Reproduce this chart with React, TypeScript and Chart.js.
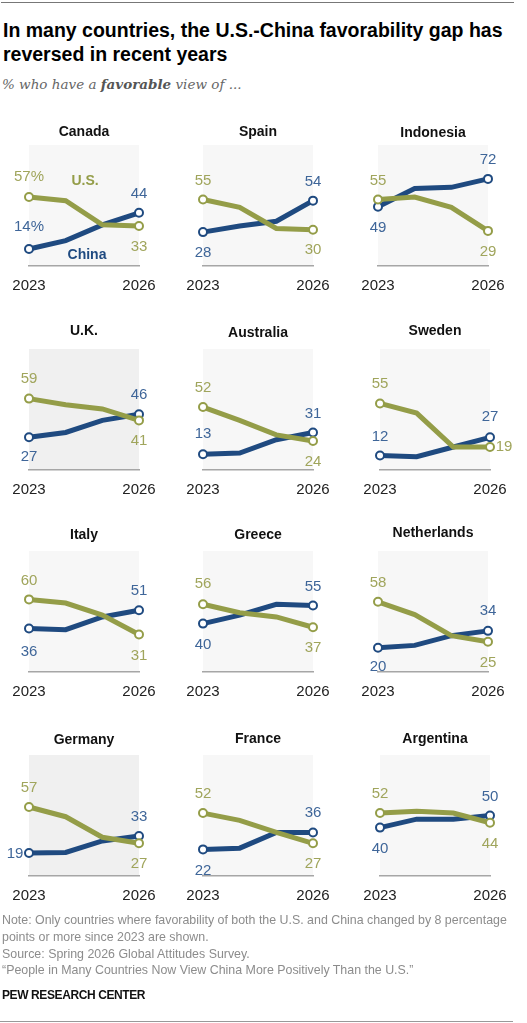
import { useEffect, useRef } from "react";
import { Chart, registerables, Plugin } from "chart.js";

Chart.register(...registerables);

const years = ["2023", "2024", "2025", "2026"];

const countries = [
  "Canada", "Spain", "Indonesia",
  "U.K.", "Australia", "Sweden",
  "Italy", "Greece", "Netherlands",
  "Germany", "France", "Argentina",
];

const usValues = [
  [57, 54, 34, 33],
  [55, 48.5, 31, 30],
  [55, 57, 48.5, 29],
  [59, 54, 50.5, 41],
  [52, 41, 29, 24],
  [55, 47, 19, 19],
  [60, 57, 47, 31],
  [56, 49, 45.5, 37],
  [58, 47.5, 30, 25],
  [57, 49, 32, 27],
  [52, 46, 36, 27],
  [52, 53.5, 52, 44],
];

const chinaValues = [
  [14, 21, 34, 44],
  [28, 33, 37, 54],
  [49, 64, 65, 72],
  [27, 31, 41, 46],
  [13, 14, 25, 31],
  [12, 11, 19, 27],
  [36, 35, 45.5, 51],
  [40, 47, 56, 55],
  [20, 22, 30, 34],
  [19, 19.5, 29, 33],
  [22, 23, 36, 36],
  [40, 47, 47, 50],
];

// where each panel sits on the page: left edge of plot, top edge of plot, title centre
const panelLeft = [29, 203, 378, 29, 203, 380, 29, 203, 378, 29, 203, 380];
const panelTop = [145, 145, 145, 349, 349, 349, 551, 551, 551, 755, 755, 755];
const titleGap = [13, 13, 12, 18, 16, 18, 16, 16, 18, 15, 16, 16];

const shadedCountries = ["U.K.", "Germany"];

// [dx, dy] of the end labels from their point: us start, us end, china start, china end
const labelOffsets = [
  [[0, -20], [0, 21], [0, -22], [0, -19]],
  [[0, -19], [0, 20], [0, 21], [0, -19]],
  [[0, -19], [0, 21], [0, 21], [0, -19]],
  [[0, -20], [0, 20], [0, 20], [0, -19]],
  [[0, -19], [0, 21], [0, -20], [0, -19]],
  [[0, -20], [14, 0], [0, -19], [0, -20]],
  [[0, -19], [0, 21], [0, 23], [0, -19]],
  [[0, -20], [0, 21], [0, 21], [0, -19]],
  [[0, -19], [0, 21], [0, 19], [0, -20]],
  [[0, -19], [0, 21], [-14, 1], [0, -19]],
  [[0, -19], [0, 21], [0, 21], [0, -20]],
  [[0, -19], [0, 21], [0, 21], [0, -19]],
];

const US_COLOR = "#949d48";
const CHINA_COLOR = "#1f4a80";
const US_TEXT = "#a0a55c";
const CHINA_TEXT = "#3f6699";
const SANS = '"Liberation Sans", sans-serif';

const CANVAS_W = 168;
const CANVAS_H = 191;
const PAD = 29;
const TOP_PAD = 35;

function Panel({ index }: { index: number }) {
  const canvasRef = useRef<HTMLCanvasElement | null>(null);

  useEffect(() => {
    if (!canvasRef.current) return;
    const name = countries[index];

    const panelPlugin: Plugin<"line"> = {
      id: "panel",
      beforeDraw: (chart) => {
        const { ctx, chartArea } = chart;
        ctx.save();
        ctx.fillStyle = shadedCountries.includes(name) ? "#f0f0f0" : "#f7f7f7";
        ctx.fillRect(chartArea.left, chartArea.top, chartArea.width, chartArea.height);
        ctx.restore();
      },
      afterDraw: (chart) => {
        const { ctx, chartArea } = chart;
        ctx.save();
        ctx.textAlign = "center";
        ctx.textBaseline = "middle";

        ctx.font = `bold 14px ${SANS}`;
        ctx.fillStyle = "#111";
        ctx.fillText(name, (chartArea.left + chartArea.right) / 2, chartArea.top - titleGap[index]);

        ctx.font = `15px ${SANS}`;
        [0, 1].forEach((ds) => {
          const values = ds === 0 ? usValues[index] : chinaValues[index];
          const meta = chart.getDatasetMeta(ds);
          ctx.fillStyle = ds === 0 ? US_TEXT : CHINA_TEXT;
          [0, 3].forEach((p, j) => {
            const pt = meta.data[p];
            const [dx, dy] = labelOffsets[index][ds * 2 + j];
            const suffix = index === 0 && p === 0 ? "%" : "";
            ctx.fillText(`${values[p]}${suffix}`, pt.x + dx, pt.y + dy);
          });
        });

        // direct series labels only on the first panel
        if (index === 0) {
          ctx.font = `bold 14px ${SANS}`;
          ctx.fillStyle = US_COLOR;
          ctx.fillText("U.S.", chartArea.left + 56, chartArea.top + 36);
          ctx.fillStyle = CHINA_COLOR;
          ctx.fillText("China", chartArea.left + 58, chartArea.top + 110);
        }
        ctx.restore();
      },
    };

    const makeDataset = (values: number[], color: string) => ({
      data: values,
      borderColor: color,
      borderWidth: 5,
      tension: 0,
      clip: false as const,
      pointRadius: [4, 0, 0, 4],
      pointBackgroundColor: "#fff",
      pointBorderColor: color,
      pointBorderWidth: 2,
    });

    const chart = new Chart(canvasRef.current, {
      type: "line",
      data: {
        labels: years,
        datasets: [
          makeDataset(usValues[index], US_COLOR),
          makeDataset(chinaValues[index], CHINA_COLOR),
        ],
      },
      options: {
        animation: false,
        responsive: false,
        layout: { padding: { left: PAD, right: PAD, top: TOP_PAD, bottom: 0 } },
        plugins: { legend: { display: false }, tooltip: { enabled: false } },
        scales: {
          x: {
            offset: false,
            grid: { display: false },
            border: { color: "#a6a6a6", width: 1.5 },
            afterFit: (scale) => {
              scale.height = 35;
            },
            ticks: {
              autoSkip: false,
              maxRotation: 0,
              padding: 3,
              color: "#222",
              font: { family: "Liberation Sans", size: 15 },
              callback: (_v, i) => (i === 0 || i === 3 ? years[i] : ""),
            },
          },
          y: { display: false, min: 0, max: 100 },
        },
      },
      plugins: [panelPlugin],
    });

    return () => chart.destroy();
  }, [index]);

  return (
    <canvas
      ref={canvasRef}
      width={CANVAS_W}
      height={CANVAS_H}
      style={{
        position: "absolute",
        left: panelLeft[index] - PAD,
        top: panelTop[index] - TOP_PAD,
        width: CANVAS_W,
        height: CANVAS_H,
      }}
    />
  );
}

function Line({ y, children, style }: { y: number; children: React.ReactNode; style: React.CSSProperties }) {
  return (
    <div
      style={{
        position: "absolute",
        left: 2,
        top: y - 12,
        lineHeight: "24px",
        whiteSpace: "nowrap",
        fontFamily: SANS,
        ...style,
      }}
    >
      {children}
    </div>
  );
}

const titleStyle: React.CSSProperties = { fontSize: 19.5, fontWeight: 700, color: "#000", left: 3 };
const noteStyle: React.CSSProperties = { fontSize: 12.4, color: "#8c8c8c" };

export default function App() {
  return (
    <div style={{ position: "absolute", left: 0, top: 0, width: 527, height: 1023, overflow: "hidden", background: "#fff" }}>
      <div style={{ position: "absolute", left: 1, top: 2, width: 513, height: 1, background: "#777" }} />
      <Line y={30} style={titleStyle}>In many countries, the U.S.-China favorability gap has</Line>
      <Line y={54} style={titleStyle}>reversed in recent years</Line>
      <Line y={84} style={{ fontFamily: '"DejaVu Serif", serif', fontStyle: "italic", fontSize: 13.5, color: "#666" }}>
        % who have a <b style={{ color: "#555" }}>favorable</b> view of ...
      </Line>

      {countries.map((c, i) => (
        <Panel key={c} index={i} />
      ))}

      <Line y={920} style={noteStyle}>Note: Only countries where favorability of both the U.S. and China changed by 8 percentage</Line>
      <Line y={937} style={noteStyle}>points or more since 2023 are shown.</Line>
      <Line y={954} style={noteStyle}>Source: Spring 2026 Global Attitudes Survey.</Line>
      <Line y={970} style={noteStyle}>“People in Many Countries Now View China More Positively Than the U.S.”</Line>
      <Line y={995} style={{ fontSize: 12, letterSpacing: -0.4, fontWeight: 700, color: "#111" }}>PEW RESEARCH CENTER</Line>
      <div style={{ position: "absolute", left: 0, top: 1021, width: 513, height: 1, background: "#999" }} />
    </div>
  );
}
